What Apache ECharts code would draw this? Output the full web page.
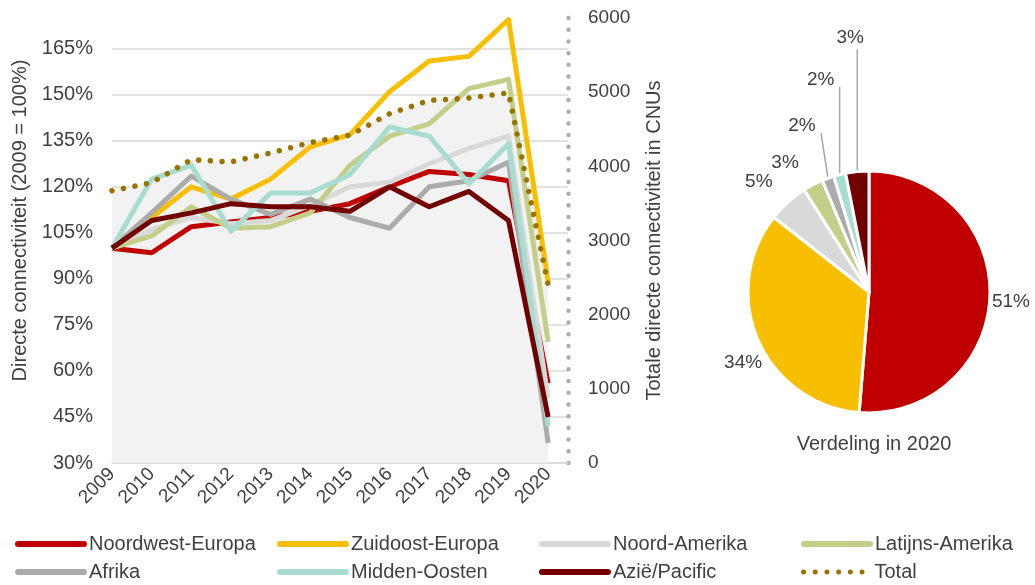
<!DOCTYPE html>
<html>
<head>
<meta charset="utf-8">
<script src="https://cdn.jsdelivr.net/npm/echarts@6/dist/echarts.min.js"></script>
<style>
  html, body { margin: 0; padding: 0; background: #fff; }
  #chart { width: 1035px; height: 585px; }
</style>
</head>
<body>
<div id="chart"></div>
<script>
// years on the x axis
const years = [2009, 2010, 2011, 2012, 2013, 2014, 2015, 2016, 2017, 2018, 2019, 2020]

// direct connectivity index per region (2009 = 100%)
const noordwestEuropa = [100, 98.5, 107, 108.5, 110, 112, 114.5, 120, 125, 124, 122, 56]
const zuidoostEuropa = [100, 110, 120, 116, 122.5, 133, 137, 151, 161, 162.5, 174.5, 89]
const noordAmerika = [100, 106, 110, 108, 109, 114, 120, 121.5, 127.5, 132.5, 136.5, 51]
const latijnsAmerika = [100, 104, 113.5, 106.5, 107, 111.5, 127, 136.5, 140.5, 152, 155, 69.5]
const afrika = [100, 111.5, 123.5, 116, 111, 116, 110, 106.5, 120, 122, 128, 36.5]
const middenOosten = [100, 122.5, 127, 105.5, 118, 118, 124, 139.5, 136.5, 121, 134, 42]
const aziePacific = [100, 109, 111.5, 114.5, 113.5, 113.5, 112, 120, 113.5, 118.5, 109, 45]

// total direct connectivity in CNUs (right axis)
const total = [3670, 3780, 4090, 4060, 4180, 4320, 4420, 4710, 4890, 4920, 4990, 2400]

// share per region in 2020 (pie)
const regions = ['Noordwest-Europa', 'Zuidoost-Europa', 'Noord-Amerika', 'Latijns-Amerika', 'Afrika', 'Midden-Oosten', 'Azië/Pacific']
const share2020 = [51.3, 34.3, 5.4, 2.7, 1.6, 1.6, 3.1]

const colors = ['#C00000', '#F8BF00', '#D9D9D9', '#C3CE89', '#ABABAB', '#A8DCD1', '#720000']
const totalColor = '#977300'
const textColor = '#404040'
const font = '"Liberation Sans", Arial, sans-serif'

const PIE_CX = 869
const PIE_CY = 292
const PIE_R = 121

// label offsets from the slice edge: [dx, dy] or [dx, dy, lineDx, lineDy]
const pieLabelOffsets = [
  [21, 5],
  [-15, 22],
  [-29, -20],
  [-28, -22],
  [-26, -52, -7, -45],
  [-19, -95, 0, -88],
  [-7, -134, 0, -122]
]

function pairs(values) {
  return years.map((y, i) => [y, values[i]])
}

function lineSeries(name, values, color) {
  return {
    name: name,
    type: 'line',
    data: pairs(values),
    symbol: 'none',
    lineStyle: { color: color, width: 5, join: 'round' },
    itemStyle: { color: color },
    z: 3
  }
}

function pieLabelLayout(p) {
  const i = p.dataIndex
  const sum = share2020.reduce((a, b) => a + b, 0)
  let before = 0
  for (let k = 0; k < i; k++) before += share2020[k]
  const mid = (before + share2020[i] / 2) / sum * Math.PI * 2
  const ax = PIE_CX + PIE_R * Math.sin(mid)
  const ay = PIE_CY - PIE_R * Math.cos(mid)
  const o = pieLabelOffsets[i]
  const res = { x: ax + o[0], y: ay + o[1], align: 'center', verticalAlign: 'middle' }
  if (o.length > 2) {
    res.labelLinePoints = [[ax, ay], [ax + o[2], ay + o[3]], [ax + o[2], ay + o[3]]]
  }
  return res
}

const lineNames = regions.concat(['Total'])

// one legend per entry so the columns line up like the original
const legends = lineNames.map((name, i) => ({
  data: [name],
  left: 15 + (i % 4) * 262,
  top: i < 4 ? 534 : 562,
  padding: 0,
  itemWidth: 66,
  itemHeight: 16,
  selectedMode: false,
  itemStyle: { opacity: 0 },
  lineStyle: name === 'Total' ? { width: 5 } : { width: 6, cap: 'round' },
  textStyle: { fontSize: 20, color: textColor, fontFamily: font }
}))

const chart = echarts.init(document.getElementById('chart'), null, { renderer: 'canvas' })

chart.setOption({
  animation: false,
  textStyle: { fontFamily: font },
  grid: { left: 112, right: 467, top: 18, bottom: 122 },
  title: {
    text: 'Verdeling in 2020',
    left: PIE_CX,
    top: 429,
    textAlign: 'center',
    textStyle: { fontSize: 20, fontWeight: 'normal', color: textColor, fontFamily: font }
  },
  legend: legends,
  xAxis: {
    type: 'value',
    min: 2009,
    max: 2020.5,
    interval: 1,
    axisLine: { lineStyle: { color: '#D9D9D9', width: 1.5 } },
    axisTick: { show: false },
    splitLine: { show: false },
    axisLabel: {
      rotate: 45,
      margin: 8,
      fontSize: 19,
      color: textColor,
      showMaxLabel: false,
      formatter: v => String(v)
    }
  },
  yAxis: [
    {
      type: 'value',
      position: 'left',
      min: 30,
      max: 175,
      interval: 15,
      axisLine: { show: false },
      axisTick: { show: false },
      axisLabel: { formatter: '{value}%', fontSize: 20, color: textColor, margin: 19, showMaxLabel: false },
      splitLine: { showMaxLine: false, lineStyle: { color: '#D9D9D9', width: 1.5 } },
      name: 'Directe connectiviteit (2009 = 100%)',
      nameLocation: 'middle',
      nameGap: 82,
      nameTextStyle: { fontSize: 20, color: textColor, fontFamily: font, padding: [0, 0, 0, 40] }
    },
    {
      type: 'value',
      position: 'right',
      min: 0,
      max: 6000,
      interval: 1000,
      axisLine: {
        show: true,
        lineStyle: { color: '#ADADAD', width: 4.5, type: [0.01, 11.7], cap: 'round' }
      },
      axisTick: { show: false },
      axisLabel: { fontSize: 19, color: textColor, margin: 20, formatter: v => String(v) },
      splitLine: { show: false },
      name: 'Totale directe connectiviteit in CNUs',
      nameLocation: 'middle',
      nameGap: 76,
      nameTextStyle: { fontSize: 20, color: textColor, fontFamily: font }
    }
  ],
  series: [
    {
      name: 'Total area',
      type: 'line',
      yAxisIndex: 1,
      data: pairs(total),
      symbol: 'none',
      lineStyle: { width: 0 },
      areaStyle: { color: '#F2F2F2', opacity: 1 },
      z: 2
    },
    lineSeries(regions[0], noordwestEuropa, colors[0]),
    lineSeries(regions[1], zuidoostEuropa, colors[1]),
    lineSeries(regions[2], noordAmerika, colors[2]),
    lineSeries(regions[3], latijnsAmerika, colors[3]),
    lineSeries(regions[4], afrika, colors[4]),
    lineSeries(regions[5], middenOosten, colors[5]),
    lineSeries(regions[6], aziePacific, colors[6]),
    {
      name: 'Total',
      type: 'line',
      yAxisIndex: 1,
      data: pairs(total),
      symbol: 'none',
      lineStyle: { color: totalColor, width: 5.5, type: [0.01, 11.7], cap: 'round' },
      itemStyle: { color: totalColor },
      z: 4
    },
    {
      name: 'Verdeling in 2020',
      type: 'pie',
      center: [PIE_CX, PIE_CY],
      radius: PIE_R,
      startAngle: 90,
      clockwise: true,
      avoidLabelOverlap: false,
      itemStyle: { borderColor: '#fff', borderWidth: 3 },
      label: {
        show: true,
        position: 'outside',
        fontSize: 19,
        color: textColor,
        fontFamily: font,
        formatter: p => Math.round(p.percent) + '%'
      },
      labelLine: { show: false },
      labelLayout: pieLabelLayout,
      emphasis: { disabled: true },
      data: regions.map((n, i) => ({
        name: n,
        value: share2020[i],
        itemStyle: { color: colors[i] },
        labelLine: i >= 4 ? { show: true, lineStyle: { color: '#A6A6A6', width: 1.5 } } : { show: false }
      }))
    }
  ]
})
</script>
</body>
</html>
